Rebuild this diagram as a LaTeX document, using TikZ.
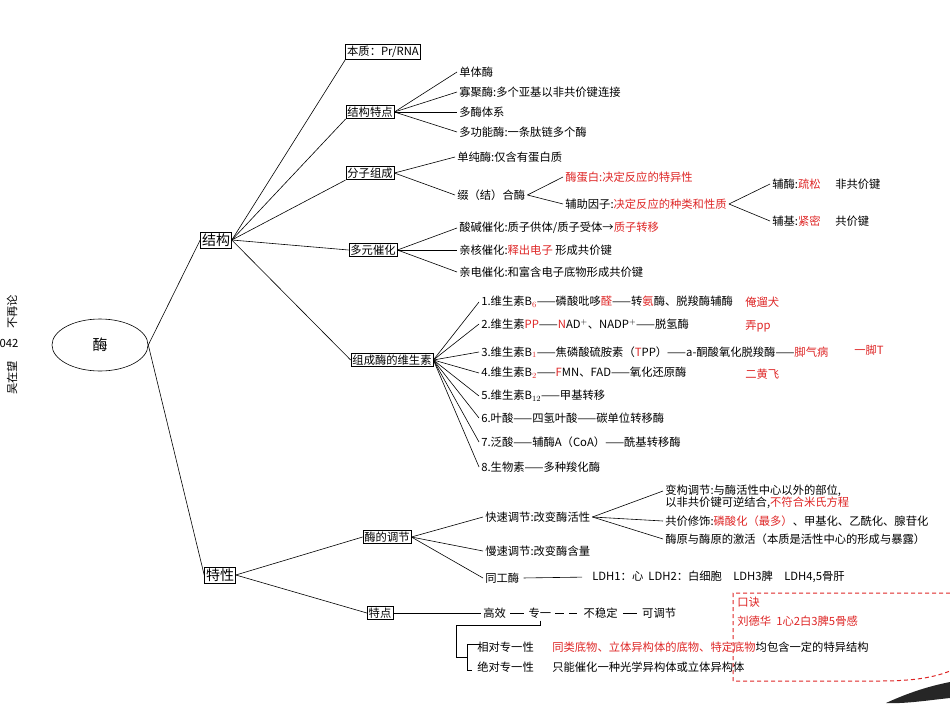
\documentclass[tikz,border=0pt]{standalone}
\usepackage{fontspec}
\setmainfont{Noto Sans CJK SC}
\usetikzlibrary{shapes.geometric,positioning}
\definecolor{hlred}{RGB}{222,38,38}
\newcommand{\rd}[1]{\textcolor{hlred}{#1}}
\newcommand{\fn}{\fontsize{11.3}{13}\selectfont}

\begin{document}
\begin{tikzpicture}[x=1pt,y=-1pt,line width=0.6pt,
  kbox/.style={draw,inner sep=1.5pt,font=\fn},
  bigbox/.style={draw,inner sep=1.5pt,font=\fontsize{14}{16}\selectfont},
  txt/.style={anchor=west,inner sep=2pt,font=\fn},
  redtxt/.style={txt,text=hlred}]
\useasboundingbox (0,0) rectangle (950,715);

% page edge
\node[rotate=90,font=\fn] (edgea) at (12,312) {不再论};
\node[font=\fn] (edgeb) at (9,343) {042};
\node[rotate=90,font=\fn] (edgec) at (12,378) {吴在望};

% root
\node[ellipse,draw,minimum width=96pt,minimum height=52pt,
  font=\fontsize{15}{17}\selectfont] (mei) at (100,345) {酶};
\node[bigbox] (jg) at (216,240) {结构};
\node[bigbox] (tx) at (220,575) {特性};
\draw (mei.east) -- (jg.west);
\draw (mei.east) -- (tx.west);

% 结构
\node[kbox] (bz) at (383,52) {本质：Pr/RNA};
\node[kbox] (jt) at (370,112) {结构特点};
\node[kbox] (fz) at (370,173) {分子组成};
\node[kbox] (dy) at (373,250) {多元催化};
\node[kbox] (ws) at (392,360) {组成酶的维生素};
\foreach \n in {bz,jt,fz} \draw (jg.east) -- (\n.south west);
\foreach \n in {dy,ws} \draw (jg.east) -- (\n.west);

% 结构特点
\node[txt] (dt1) at (457,72) {单体酶};
\node[txt] (dt2) at (457,92) {寡聚酶:多个亚基以非共价键连接};
\node[txt] (dt3) at (457,112) {多酶体系};
\node[txt] (dt4) at (457,132) {多功能酶:一条肽链多个酶};
\foreach \n in {dt1,dt2,dt3,dt4} \draw (jt.east) -- (\n.west);

% 分子组成
\node[txt] (fz1) at (455,157) {单纯酶:仅含有蛋白质};
\node[txt] (fz2) at (455,195) {缀（结）合酶};
\foreach \n in {fz1,fz2} \draw (fz.east) -- (\n.west);
\node[redtxt] (fz21) at (563,177) {酶蛋白:决定反应的特异性};
\node[txt] (fz22) at (563,204) {辅助因子:\rd{决定反应的种类和性质}};
\foreach \n in {fz21,fz22} \draw (fz2.east) -- (\n.west);
\node[txt] (fz221) at (770,184) {辅酶:\rd{疏松}};
\node[txt] (fz222) at (770,221) {辅基:\rd{紧密}};
\foreach \n in {fz221,fz222} \draw (fz22.east) -- (\n.west);
\node[txt,right=10pt of fz221] (fzk1) {非共价键};
\node[txt,right=10pt of fz222] (fzk2) {共价键};

% 多元催化
\node[txt] (dy1) at (457,228) {酸碱催化:质子供体/质子受体→\rd{质子转移}};
\node[txt] (dy2) at (457,250) {亲核催化:\rd{释出电子}\ 形成共价键};
\node[txt] (dy3) at (457,272) {亲电催化:和富含电子底物形成共价键};
\foreach \n in {dy1,dy2,dy3} \draw (dy.east) -- (\n.west);

% 维生素
\node[txt] (ws1) at (479,302) {1.维生素B\rd{$_6$}——磷酸吡哆\rd{醛}——转\rd{氨}酶、脱羧酶辅酶};
\node[txt] (ws2) at (479,324) {2.维生素\rd{PP}——\rd{N}AD$^+$、NADP$^+$——脱氢酶};
\node[txt] (ws3) at (479,352) {3.维生素B\rd{$_1$}——焦磷酸硫胺素（\rd{T}PP）——a-酮酸氧化脱羧酶——\rd{脚气病}};
\node[txt] (ws4) at (479,373) {4.维生素B\rd{$_2$}——\rd{F}MN、FAD——氧化还原酶};
\node[txt] (ws5) at (479,396) {5.维生素B$_{12}$——甲基转移};
\node[txt] (ws6) at (479,418) {6.叶酸——四氢叶酸——碳单位转移酶};
\node[txt] (ws7) at (479,442) {7.泛酸——辅酶A（CoA）——酰基转移酶};
\node[txt] (ws8) at (479,467) {8.生物素——多种羧化酶};
\foreach \i in {1,...,8} \draw (ws.east) -- (ws\i.west);
\node[redtxt] (kj1) at (743,302) {俺遛犬};
\node[redtxt] (kj2) at (743,326) {弄pp};
\node[redtxt] (kj3) at (852,350) {一脚T};
\node[redtxt] (kj4) at (743,374) {二黄飞};

% 特性
\node[kbox] (tj) at (387,537) {酶的调节};
\node[kbox] (td) at (380,613) {特点};
\foreach \n in {tj,td} \draw (tx.east) -- (\n.west);

% 酶的调节
\node[txt] (tj1) at (483,517) {快速调节:改变酶活性};
\node[txt] (tj2) at (483,551) {慢速调节:改变酶含量};
\node[txt] (tj3) at (483,578) {同工酶};
\foreach \n in {tj1,tj2,tj3} \draw (tj.east) -- (\n.west);
\node[txt] (tj11) at (663,491) {变构调节:与酶活性中心以外的部位,};
\node[txt] (tj11b) at (663,503) {以非共价键可逆结合,\rd{不符合米氏方程}};
\node[txt] (tj12) at (663,521) {共价修饰:\rd{磷酸化（最多）}、甲基化、乙酰化、腺苷化};
\node[txt] (tj13) at (663,539) {酶原与酶原的激活（本质是活性中心的形成与暴露）};
\foreach \n in {tj11,tj12,tj13} \draw (tj1.east) -- (\n.west);
\node[txt] (ldh) at (590,577) {LDH1：心\ \ LDH2：白细胞\quad LDH3脾\quad LDH4,5骨肝};
\draw[shorten <=2pt,shorten >=8pt] (tj3.east) -- (ldh.west);

% 特点
\node[txt] (gx1) at (481,613) {高效};
\node[txt,right=18pt of gx1] (gx2) {专一};
\node[txt,right=28pt of gx2] (gx3) {不稳定};
\node[txt,right=20pt of gx3] (gx4) {可调节};
\draw (td.east) -- (gx1.west);
\draw[shorten <=2pt,shorten >=2pt] (gx1.east) -- (gx2.west);
\draw[shorten <=2pt,shorten >=4pt,dash pattern=on 9pt off 5pt] (gx2.east) -- (gx3.west);
\draw[shorten <=3pt,shorten >=3pt] (gx3.east) -- (gx4.west);
\node[txt] (zx1) at (475,647) {相对专一性};
\node[txt] (zx2) at (475,667) {绝对专一性};
\node[txt] (zx1r) at (550,647) {\rd{同类底物、立体异构体的底物、特定底物}均包含一定的特异结构};
\node[txt] (zx2r) at (550,667) {只能催化一种光学异构体或立体异构体};
\coordinate (brk) at (467,657);
\draw (gx2.south) -- ++(0,5) -| (456,657) -- (brk);
\draw ([xshift=5pt]zx1.west |- 0,644) -| (brk |- 0,670) -- ++(5,0);

% 口诀
\draw[hlred,line width=1pt,dash pattern=on 4pt off 3pt]
  (950,593) -- (733,593) -- (733,681) -- (880,681)
  .. controls (915,681) and (935,677) .. (950,671);
\node[redtxt] (kjt) at (735,602) {口诀};
\node[redtxt] (kjl) at (735,621) {刘德华\ \ 1心2白3脾5骨感};

% page shadow
\fill[black!85] (886,703) .. controls (910,692) and (930,686) .. (950,682)
  -- (950,698) .. controls (930,700) and (905,704) .. cycle;
\end{tikzpicture}
\end{document}
